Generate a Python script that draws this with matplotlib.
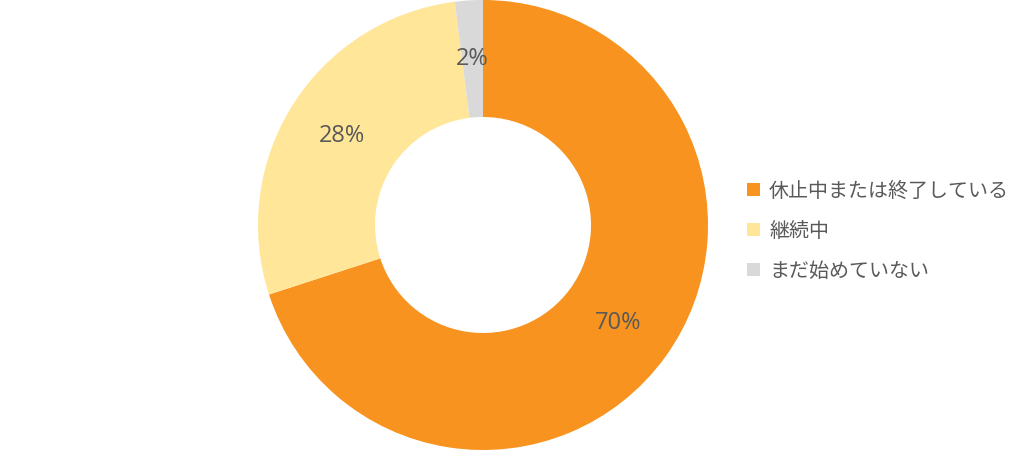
import matplotlib.pyplot as plt
from matplotlib.patches import Patch

plt.rcParams['font.family'] = ['Noto Sans CJK JP', 'DejaVu Sans']

# --- Data ---
labels = ['休止中または終了している', '継続中', 'まだ始めていない']
values = [70, 28, 2]
colors = ['#F7931E', '#FFE699', '#D9D9D9']
text_color = '#595959'

fig = plt.figure(figsize=(10.24, 4.58), dpi=100)
# axes sized so the donut sits where the reference has it
ax = fig.add_axes([258 / 1024, 8 / 458, 450 / 1024, 450 / 458])

wedges, _, autotexts = ax.pie(values, colors=colors, startangle=90, counterclock=False,
                              radius=1.0, autopct='%d%%', pctdistance=0.74,
                              wedgeprops=dict(width=0.52, linewidth=0),
                              textprops=dict(color=text_color, fontsize=17,
                                             family=['Open Sans', 'DejaVu Sans']))
ax.set_xlim(-1, 1)
ax.set_ylim(-1, 1)
ax.set_aspect('equal')
ax.axis('off')

handles = [Patch(facecolor=c, edgecolor='none') for c in colors]
fig.legend(handles, labels, loc='center left',
           bbox_to_anchor=(729 / 1024, (458 - 231) / 458),
           frameon=False, fontsize=14.4, labelcolor=text_color,
           handlelength=0.65, handleheight=0.65, handletextpad=0.45,
           labelspacing=0.95)

fig.savefig('out.png', dpi=100)
